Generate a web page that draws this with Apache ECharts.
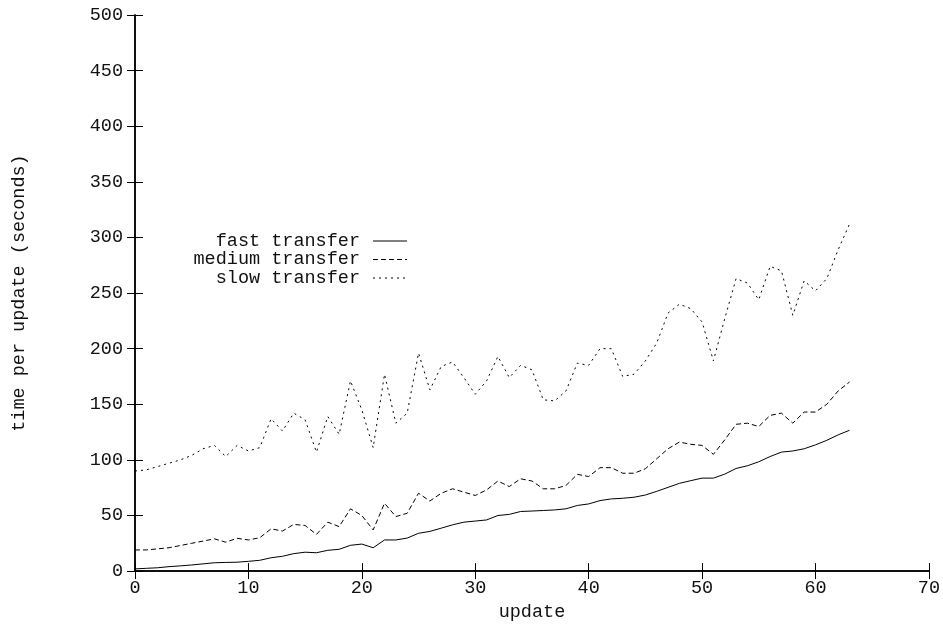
<!DOCTYPE html>
<html>
<head>
<meta charset="utf-8">
<script src="https://cdn.jsdelivr.net/npm/echarts@6/dist/echarts.min.js"></script>
<style>
html,body{margin:0;padding:0;background:#fff;}
#chart{width:943px;height:627px;}
</style>
</head>
<body>
<div id="chart"></div>
<script>
const updates = Array.from({length: 64}, (_, i) => i);
const fastTransfer = [2,2.5,3,4,4.7,5.5,6.5,7.5,7.8,8,8.8,9.7,12,13.3,15.7,17,16.5,18.7,19.6,23.2,24.3,21,28,28,29.7,34,35.7,38.6,41.6,44,45,46,50,51,53.6,54,54.5,55,56,59,60.4,63.4,64.9,65.5,66.4,68.4,71.7,75.3,78.9,81.3,83.6,83.6,87.2,92.3,94.7,98.3,103,107,108,110,113.5,117.6,122.5,126.6];
const mediumTransfer = [19,19,20,21,23,25,27,29,26,29.5,28,30,38,36,42,41,33,44,40,56,50,37,61,49,52,70,63,70,74,71,68,73,81,76,83,81,74,74,77,87,85,93,93,88,88,92,101,110,116,114,113,105,118,132,133,130,140,142,133,143,143,150,162,170];
const slowTransfer = [90,91,94,97,100,104,110,113,103,113,108,111,137,126,142,136,107,139,123,171,145,111,177,133,142,196,163,184,188,174,159,171,193,174,185,181,154,153,162,187,185,200,200,175,177,189,205,232,240,236,224,189,227,263,259,244,274,270,230,261,252,263,289,312];
const seriesNames = ['fast transfer', 'medium transfer', 'slow transfer'];
const xTicks = {min: 0, max: 70, interval: 10};
const yTicks = {min: 0, max: 500, interval: 50};

const FONT = 'Liberation Mono';
const FS = 18.5;
const txt = {fontFamily: FONT, fontSize: FS, color: '#111'};
const axisLine = {show: true, lineStyle: {color: '#000', width: 1.5}};
const tick = {show: true, inside: true, length: 8, lineStyle: {color: '#000', width: 1}};

const pair = (arr) => arr.map((v, i) => [updates[i], v]);
const dashes = ['solid', [5, 3], [2, 4]];
const data = [fastTransfer, mediumTransfer, slowTransfer];

// legend: text right-aligned just left of a sample line starting at x=373
const sampleLeft = 373;
const chart = echarts.init(document.getElementById('chart'), null, {renderer: 'canvas'});
chart.setOption({
  backgroundColor: '#fff',
  animation: false,
  grid: {left: 135, right: 14, top: 15, bottom: 53},
  xAxis: [
    {type: 'value', position: 'bottom', min: xTicks.min, max: xTicks.max, interval: xTicks.interval,
     name: 'update', nameLocation: 'middle', nameGap: 27, nameTextStyle: txt,
     axisLine, axisTick: tick, splitLine: {show: false},
     axisLabel: Object.assign({margin: 8}, txt)},
    {type: 'value', position: 'top', min: xTicks.min, max: xTicks.max, interval: xTicks.interval,
     axisLine, axisTick: tick, splitLine: {show: false}, axisLabel: {show: false}}
  ],
  yAxis: [
    {type: 'value', position: 'left', min: yTicks.min, max: yTicks.max, interval: yTicks.interval,
     name: 'time per update (seconds)', nameLocation: 'middle', nameGap: 106, nameRotate: 90,
     nameTextStyle: txt,
     axisLine, axisTick: tick, splitLine: {show: false},
     axisLabel: Object.assign({margin: 12}, txt)},
    {type: 'value', position: 'right', min: yTicks.min, max: yTicks.max, interval: yTicks.interval,
     axisLine, axisTick: tick, splitLine: {show: false}, axisLabel: {show: false}}
  ],
  legend: seriesNames.map((n, i) => ({
    show: true, type: 'plain',
    data: [n], orient: 'vertical', align: 'right',
    left: sampleLeft - 13 - n.length * FS * 0.6, top: 231.5 + i * 18.5, right: 'auto', bottom: 'auto',
    padding: 0, itemGap: 0, itemWidth: 34, itemHeight: 14,
    selectedMode: false,
    itemStyle: {opacity: 0},
    lineStyle: {width: 1},
    textStyle: Object.assign({padding: [0, 8, 0, 0]}, txt)
  })),
  series: seriesNames.map((n, i) => ({
    name: n, type: 'line', data: pair(data[i]), symbol: 'none', showSymbol: false,
    lineStyle: {color: '#000', width: 1, type: dashes[i]},
    itemStyle: {color: '#000'}
  }))
});
</script>
</body>
</html>
